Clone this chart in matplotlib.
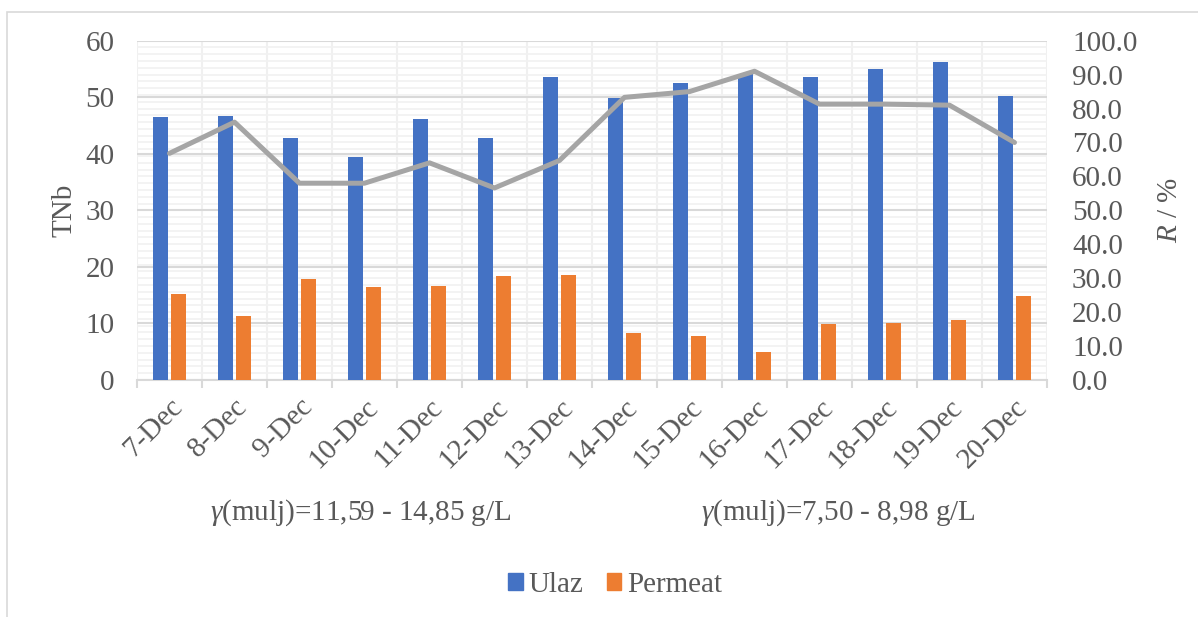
import numpy as np
import matplotlib
matplotlib.use("Agg")
import matplotlib.pyplot as plt
from matplotlib.ticker import MultipleLocator, FixedLocator, FormatStrFormatter
from matplotlib.patches import Rectangle, Patch

plt.rcParams["font.family"] = "serif"
plt.rcParams["font.serif"] = ["Liberation Serif", "Times New Roman", "DejaVu Serif"]
plt.rcParams["mathtext.fontset"] = "custom"
plt.rcParams["mathtext.rm"] = "Liberation Serif"
plt.rcParams["mathtext.it"] = "Liberation Serif:italic"

# data
dates = ["7-Dec", "8-Dec", "9-Dec", "10-Dec", "11-Dec", "12-Dec", "13-Dec",
         "14-Dec", "15-Dec", "16-Dec", "17-Dec", "18-Dec", "19-Dec", "20-Dec"]
ulaz = [46.5, 46.7, 42.8, 39.5, 46.2, 42.8, 53.5, 49.9, 52.5, 54.1, 53.5, 55.0, 56.3, 50.2]
permeat = [15.2, 11.3, 17.8, 16.5, 16.6, 18.4, 18.6, 8.3, 7.8, 4.9, 9.9, 10.1, 10.6, 14.9]
removal = [66.8, 76.0, 58.0, 58.0, 64.0, 56.6, 64.7, 83.3, 85.0, 91.0, 81.3, 81.3, 81.0, 70.0]
notes = ["$γ$(mulj)=11,59 - 14,85 g/L", "$γ$(mulj)=7,50 - 8,98 g/L"]

TXT = "#595959"
BLUE, ORANGE, GREY = "#4472C4", "#ED7D31", "#A5A5A5"
FS = 21

fig = plt.figure(figsize=(11.98, 6.17), dpi=100)
W, H = 1198, 617
ax = fig.add_axes([137 / W, 1 - 380 / H, (1047 - 137) / W, (380 - 40.7) / H])
ax2 = ax.twinx()

x = np.arange(len(dates))
bw = 0.23
ax.bar(x - 0.14, ulaz, bw, color=BLUE, zorder=3)
ax.bar(x + 0.14, permeat, bw, color=ORANGE, zorder=3)
ax2.plot(x, removal, color=GREY, lw=3.6, solid_capstyle="round", solid_joinstyle="round")

ax.set_xlim(-0.5, len(dates) - 0.5)
ax.set_ylim(0, 60)
ax2.set_ylim(0, 100)

ax.yaxis.set_major_locator(MultipleLocator(10))
ax.yaxis.set_minor_locator(MultipleLocator(1.2))
ax2.yaxis.set_major_locator(MultipleLocator(10))
ax2.yaxis.set_major_formatter(FormatStrFormatter("%.1f"))

ax.set_xticks(x)
ax.set_xticklabels(dates, rotation=45, ha="right", rotation_mode="anchor")
ax.xaxis.set_minor_locator(FixedLocator(np.arange(-0.5, len(dates), 1)))

ax.grid(which="major", axis="y", color="#D9D9D9", lw=1.5, zorder=0)
ax.grid(which="minor", axis="y", color="#F2F2F2", lw=1.3, zorder=0)
ax.grid(which="minor", axis="x", color="#F0F0F0", lw=1.5, zorder=0)
ax.set_axisbelow(True)

for a in (ax, ax2):
    for s in a.spines.values():
        s.set_visible(False)
ax.spines["bottom"].set_visible(True)
ax.spines["bottom"].set_color("#D9D9D9")
ax.spines["bottom"].set_linewidth(1.5)

ax.tick_params(axis="y", which="both", length=0, labelsize=FS, labelcolor=TXT, pad=16)
ax.tick_params(axis="x", which="major", length=0, labelsize=FS, labelcolor=TXT, pad=10)
ax.tick_params(axis="x", which="minor", length=6, width=1.5, color="#D9D9D9")
ax2.tick_params(axis="y", length=0, labelsize=FS, labelcolor=TXT, pad=18)

ax.set_ylabel("TNb", fontsize=FS, color=TXT, labelpad=6)
ax2.set_ylabel("$R$ / %", fontsize=FS, color=TXT, labelpad=14)

fig.text(361 / W, 1 - 513 / H, notes[0], fontsize=FS, color=TXT, ha="center", va="center")
fig.text(838 / W, 1 - 513 / H, notes[1], fontsize=FS, color=TXT, ha="center", va="center")

handles = [Patch(color=BLUE, label="Ulaz"), Patch(color=ORANGE, label="Permeat")]
fig.legend(handles=handles, loc="center", bbox_to_anchor=(615 / W, 1 - 585 / H), ncol=2,
           frameon=False, fontsize=FS, labelcolor=TXT, handlelength=0.5, handleheight=0.5,
           handletextpad=0.2, columnspacing=0.8)

fig.patches.append(Rectangle((7 / W, -0.1), 1.2, 1 - 12 / H + 0.1, transform=fig.transFigure,
                             fill=False, edgecolor="#D9D9D9", lw=1.2))

fig.savefig("out.png", dpi=100)
